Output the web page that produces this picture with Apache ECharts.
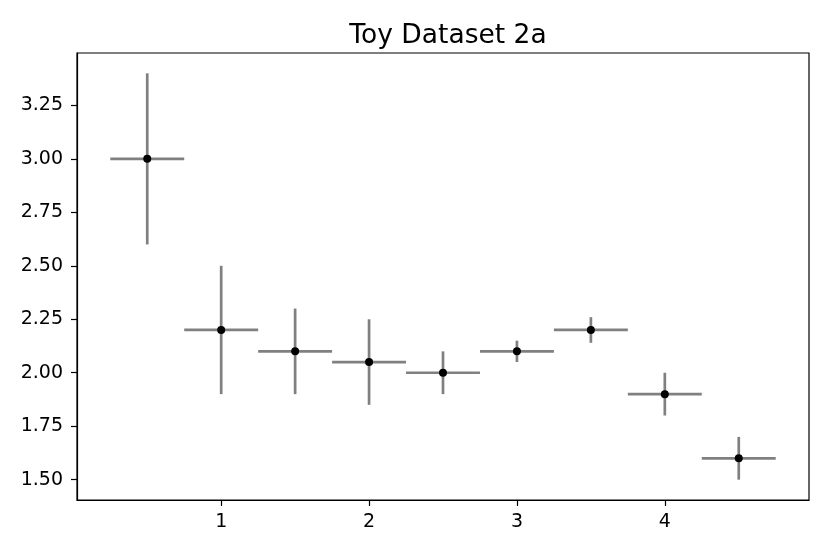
<!DOCTYPE html>
<html>
<head>
<meta charset="utf-8">
<script src="https://cdn.jsdelivr.net/npm/echarts@6/dist/echarts.min.js"></script>
<style>
  html, body { margin: 0; padding: 0; background: #fff; }
  #chart { width: 830px; height: 554px; }
</style>
</head>
<body>
<div id="chart"></div>
<script>
// data
const xValues = [0.5, 1.0, 1.5, 2.0, 2.5, 3.0, 3.5, 4.0, 4.5]
const yValues = [3.0, 2.2, 2.1, 2.05, 2.0, 2.1, 2.2, 1.9, 1.6]
const yErrors = [0.4, 0.3, 0.2, 0.2, 0.1, 0.05, 0.06, 0.1, 0.1]
const xErrors = [0.25, 0.25, 0.25, 0.25, 0.25, 0.25, 0.25, 0.25, 0.25]
const xTicks = [1, 2, 3, 4]
const yTicks = [1.5, 1.75, 2.0, 2.25, 2.5, 2.75, 3.0, 3.25]

const font = 'DejaVu Sans'
const chart = echarts.init(document.getElementById('chart'))

// rows: x, y, xerr, yerr
const rows = xValues.map((x, i) => [x, yValues[i], xErrors[i], yErrors[i]])

// error bars: horizontal and vertical gray lines
const renderErr = (params, api) => {
  const x = api.value(0)
  const y = api.value(1)
  const dx = api.value(2)
  const dy = api.value(3)
  const l = api.coord([x - dx, y])
  const r = api.coord([x + dx, y])
  const t = api.coord([x, y + dy])
  const b = api.coord([x, y - dy])
  const style = { stroke: '#808080', lineWidth: 2.7 }
  return {
    type: 'group',
    children: [
      { type: 'line', shape: { x1: l[0], y1: l[1], x2: r[0], y2: r[1] }, style },
      { type: 'line', shape: { x1: t[0], y1: t[1], x2: b[0], y2: b[1] }, style }
    ]
  }
}

const axisCommon = {
  type: 'value',
  axisLine: { show: true, onZero: false, lineStyle: { color: '#000', width: 1.2 } },
  axisTick: { show: true, inside: false, length: 6, lineStyle: { color: '#000', width: 1.2 } },
  splitLine: { show: false }
}

const option = {
  animation: false,
  backgroundColor: '#fff',
  title: {
    text: 'Toy Dataset 2a',
    left: 443,
    textAlign: 'center',
    top: 18,
    textStyle: { fontFamily: font, fontSize: 26.5, fontWeight: 'normal', color: '#000' }
  },
  grid: {
    left: 77, right: 21, top: 53, bottom: 54,
    show: true, borderColor: '#000', borderWidth: 1.2, backgroundColor: 'transparent'
  },
  xAxis: {
    ...axisCommon,
    min: 0.025,
    max: 4.975,
    axisTick: { ...axisCommon.axisTick, customValues: xTicks },
    axisLabel: {
      customValues: xTicks,
      margin: 13,
      fontFamily: font, fontSize: 19, color: '#000',
      formatter: v => String(v)
    }
  },
  yAxis: {
    ...axisCommon,
    min: 1.405,
    max: 3.495,
    axisTick: { ...axisCommon.axisTick, customValues: yTicks },
    axisLabel: {
      customValues: yTicks,
      margin: 14,
      fontFamily: font, fontSize: 19, color: '#000',
      formatter: v => v.toFixed(2)
    }
  },
  series: [
    {
      type: 'custom',
      renderItem: renderErr,
      data: rows,
      encode: { x: 0, y: 1 },
      z: 2
    },
    {
      type: 'scatter',
      data: rows.map(r => [r[0], r[1]]),
      symbol: 'circle',
      symbolSize: 8,
      itemStyle: { color: '#000', opacity: 1 },
      z: 3
    }
  ]
}

chart.setOption(option)
</script>
</body>
</html>
